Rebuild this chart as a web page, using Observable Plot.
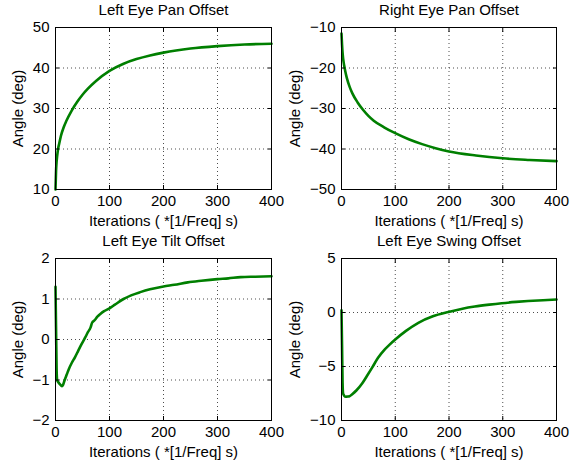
<!DOCTYPE html>
<html><head><meta charset="utf-8">
<script src="https://cdn.jsdelivr.net/npm/d3@7"></script>
<script src="https://cdn.jsdelivr.net/npm/@observablehq/plot@0.6"></script>
<style>
body{margin:0;background:#fff;}
#fig{position:relative;width:570px;height:468px;background:#fff;overflow:hidden;}
#fig .pan{position:absolute;width:285px;height:234px;}
</style></head><body><div id="fig"></div>
<script>
const xTicks = [0, 100, 200, 300, 400];
const xLabel = "Iterations ( *[1/Freq] s)";
const yLabel = "Angle (deg)";

const titles = ["Left Eye Pan Offset", "Right Eye Pan Offset", "Left Eye Tilt Offset", "Left Eye Swing Offset"];

const leftPanIter  = [0,1,2,3,5,7,10,15,20,30,40,50,60,75,100,125,150,175,200,250,300,350,400];
const leftPanAngle = [10,14.5,16.8,18.2,20.2,21.4,23.2,25.3,26.9,29.5,31.6,33.4,34.9,36.8,39.3,41.0,42.2,43.1,43.8,44.8,45.4,45.8,46.0];
const leftPanTicks = [10,20,30,40,50];

const rightPanIter  = [0,1,2,3,5,7,10,15,20,30,40,50,60,80,100,125,150,175,200,250,300,350,400];
const rightPanAngle = [-11.5,-14.2,-16.2,-17.6,-19.4,-20.8,-22.5,-24.6,-26.2,-28.5,-30.3,-31.8,-33.0,-34.7,-36.1,-37.6,-38.8,-39.8,-40.6,-41.6,-42.3,-42.7,-43.0];
const rightPanTicks = [-50,-40,-30,-20,-10];

const leftTiltIter  = [0,1,2,3,5,8,12,14,17,21,25,30,36,42,48,55,60,65,68,72,78,83,90,100,110,126,140,157,175,200,220,245,270,300,320,343,370,400];
const leftTiltAngle = [1.3,0.3,-0.7,-1.0,-1.05,-1.1,-1.15,-1.12,-1.0,-0.86,-0.72,-0.58,-0.44,-0.28,-0.12,0.05,0.18,0.3,0.42,0.47,0.57,0.63,0.7,0.77,0.86,1.0,1.09,1.17,1.24,1.31,1.35,1.41,1.45,1.49,1.51,1.54,1.55,1.56];
const leftTiltTicks = [-2,-1,0,1,2];

const leftSwingIter  = [0,1,2,3,5,8,11,15,20,28,38,47,57,68,81,90,100,120,143,170,199,225,248,275,298,325,347,375,400];
const leftSwingAngle = [0.2,-3,-6.5,-7.5,-7.7,-7.8,-7.78,-7.75,-7.56,-7.2,-6.6,-5.9,-5.1,-4.2,-3.4,-2.95,-2.5,-1.7,-0.95,-0.35,0.05,0.35,0.55,0.73,0.86,0.98,1.06,1.14,1.2];
const leftSwingTicks = [-10,-5,0,5];

const FONT = "'Liberation Sans', Arial, Helvetica, sans-serif";
const FS = 15;
const fig = document.getElementById("fig");

function panel(it, val, yTicks, title, left, top, m, ylabDx) {
  const data = it.map((x, i) => ({x, y: val[i]}));
  const yDomain = [yTicks[0], yTicks[yTicks.length - 1]];
  const gridStyle = {stroke: "#000", strokeOpacity: 0.7, strokeDasharray: "1,3"};
  const svg = Plot.plot({
    width: 285, height: 234,
    marginLeft: m[0], marginRight: m[1], marginTop: m[2], marginBottom: m[3],
    style: {fontFamily: FONT, fontSize: FS + "px", background: "transparent", color: "#000", overflow: "visible"},
    x: {domain: [0, 400]},
    y: {domain: yDomain},
    marks: [
      Plot.gridX(xTicks.slice(1, -1), gridStyle),
      Plot.gridY(yTicks.slice(1, -1), gridStyle),
      Plot.line(data, {x: "x", y: "y", stroke: "#007f00", strokeWidth: 2.6, strokeLinejoin: "round", curve: "monotone-x"}),
      Plot.frame({stroke: "#000", strokeWidth: 1}),
      Plot.axisX(xTicks, {anchor: "bottom", tickSize: -4, text: null, label: null}),
      Plot.axisX(xTicks, {anchor: "top", tickSize: -4, text: null, label: null}),
      Plot.axisY(yTicks, {anchor: "left", tickSize: -4, text: null, label: null}),
      Plot.axisY(yTicks, {anchor: "right", tickSize: -4, text: null, label: null}),
      Plot.axisX(xTicks, {anchor: "bottom", tickSize: 0, tickPadding: 6, label: null, fontSize: FS}),
      Plot.axisY(yTicks, {anchor: "left", tickSize: 0, tickPadding: 6, label: null, fontSize: FS}),
      Plot.text([title], {text: d => d, frameAnchor: "top", dy: -17, textAnchor: "middle", lineAnchor: "middle", fontSize: FS}),
      Plot.text([yLabel], {text: d => d, frameAnchor: "left", rotate: -90, dx: ylabDx, textAnchor: "middle", lineAnchor: "middle", fontSize: FS}),
      Plot.text([xLabel], {text: d => d, frameAnchor: "bottom", dy: 32, textAnchor: "middle", lineAnchor: "middle", fontSize: FS})
    ]
  });
  const wrap = document.createElement("div");
  wrap.className = "pan";
  wrap.style.left = left + "px";
  wrap.style.top = top + "px";
  wrap.appendChild(svg);
  fig.appendChild(wrap);
}

panel(leftPanIter, leftPanAngle, leftPanTicks, titles[0], 0, 0, [55, 14, 27, 45], -37);
panel(rightPanIter, rightPanAngle, rightPanTicks, titles[1], 285, 0, [56, 14, 27, 45], -46);
panel(leftTiltIter, leftTiltAngle, leftTiltTicks, titles[2], 0, 234, [55, 14, 24, 48], -37);
panel(leftSwingIter, leftSwingAngle, leftSwingTicks, titles[3], 285, 234, [56, 14, 24, 48], -46);
</script>
</body></html>
